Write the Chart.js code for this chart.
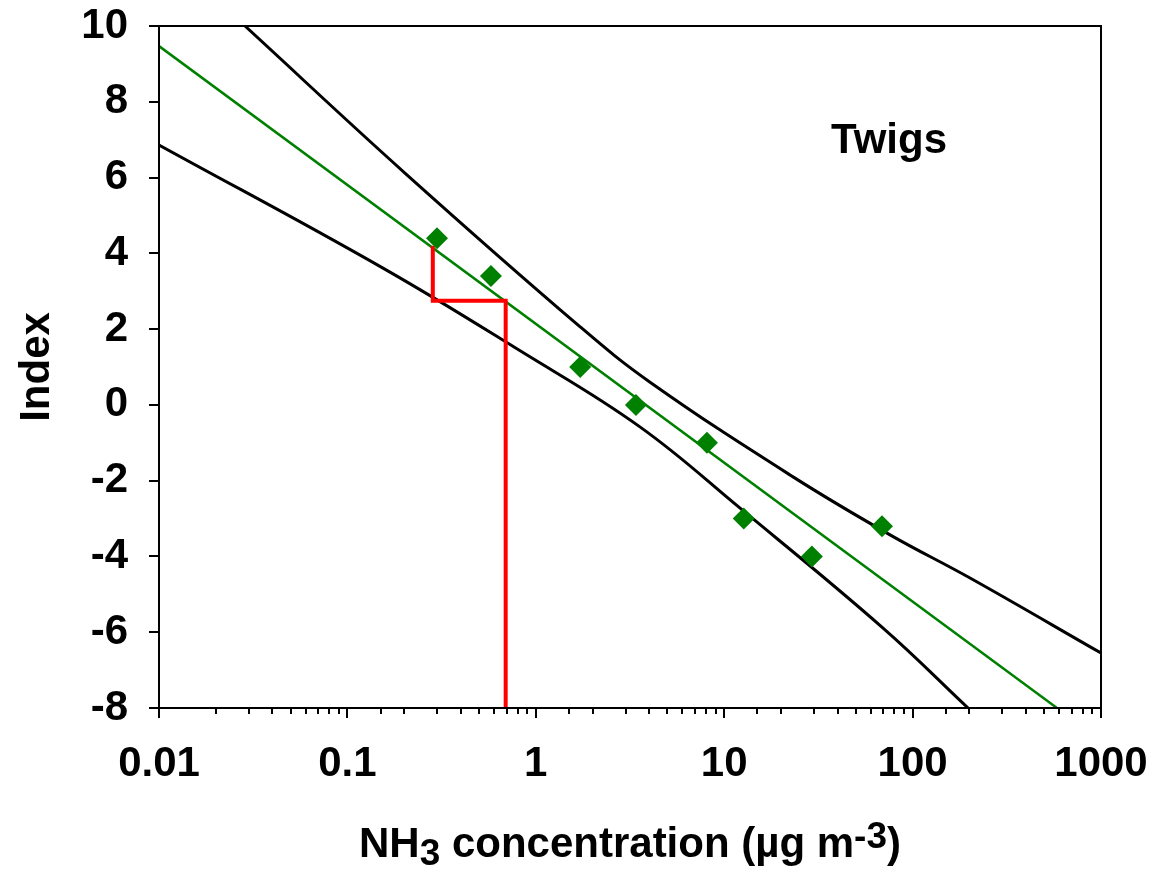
<!DOCTYPE html>
<html>
<head>
<meta charset="utf-8">
<script src="https://cdn.jsdelivr.net/npm/chart.js@4.4.0/dist/chart.umd.min.js"></script>
<style>
html,body{margin:0;padding:0;background:#fff;}
canvas{display:block;}
</style>
</head>
<body>
<canvas id="c" width="1153" height="884"></canvas>
<script>
// ---- data ----
const pointsX = [0.299, 0.578, 1.72, 3.40, 8.1, 12.7, 29.2, 68.8];
const pointsY = [4.4, 3.4, 1.0, 0.0, -1.0, -3.0, -4.0, -3.2];

const fitX = [0.01, 584];
const fitY = [9.47, -8];

const upperX = [0.0286, 0.202, 1.72, 4.04, 23.2, 75.9, 201.8, 1000];
const upperY = [10, 6.12, 2.06, 0.60, -1.90, -3.43, -4.57, -6.55];

const lowerX = [0.01, 0.1545, 0.83, 3.57, 12.1, 69.7, 197];
const lowerY = [6.86, 3.61, 1.42, -0.58, -2.72, -5.89, -8];

const redX = [0.284, 0.284, 0.692, 0.692];
const redY = [4.2, 2.75, 2.75, -8];

const xTickValues = [0.01, 0.1, 1, 10, 100, 1000];
const xTickLabels = ['0.01', '0.1', '1', '10', '100', '1000'];
const yMin = -8, yMax = 10, yStep = 2;

const annotationText = 'Twigs';
const annotationX = 75;
const annotationY = 6.65;

const xTitleParts = [
  {t: 'NH', kind: 'n'},
  {t: '3', kind: 'sub'},
  {t: ' concentration (\u00b5g m', kind: 'n'},
  {t: '-3', kind: 'sup'},
  {t: ')', kind: 'n'}
];
const yTitle = 'Index';

// ---- helpers ----
const FONT = "'Liberation Sans', Arial, Helvetica, sans-serif";
const FS = 42;
const pts = (xs, ys) => xs.map((v, i) => ({x: v, y: ys[i]}));
const isDecade = v => { const l = Math.log10(v); return Math.abs(l - Math.round(l)) < 1e-6; };

const decor = {
  id: 'decor',
  afterDatasetsDraw(chart) {
    const {ctx, chartArea: a, scales: {x, y}} = chart;
    ctx.save();
    ctx.strokeStyle = '#000';
    ctx.lineWidth = 2;
    ctx.strokeRect(a.left, a.top, a.right - a.left, a.bottom - a.top);
    ctx.beginPath();
    x.ticks.forEach(t => {
      const px = Math.round(x.getPixelForValue(t.value));
      const len = isDecade(t.value) ? 10 : 6;
      ctx.moveTo(px, a.bottom);
      ctx.lineTo(px, a.bottom + len);
    });
    y.ticks.forEach(t => {
      const py = Math.round(y.getPixelForValue(t.value));
      ctx.moveTo(a.left - 10, py);
      ctx.lineTo(a.left, py);
    });
    ctx.stroke();

    // annotation
    ctx.fillStyle = '#000';
    ctx.font = `bold ${FS}px ${FONT}`;
    ctx.textAlign = 'center';
    ctx.textBaseline = 'alphabetic';
    ctx.fillText(annotationText, x.getPixelForValue(annotationX), y.getPixelForValue(annotationY));

    // x axis title with sub/superscript
    const fN = `bold ${FS}px ${FONT}`;
    const fS = `bold ${FS - 5}px ${FONT}`;
    let total = 0;
    xTitleParts.forEach(p => {
      ctx.font = p.kind === 'n' ? fN : fS;
      p.w = ctx.measureText(p.t).width;
      total += p.w;
    });
    const base = chart.height - 27;
    let cx = (a.left + a.right) / 2 - total / 2;
    ctx.textAlign = 'left';
    xTitleParts.forEach(p => {
      ctx.font = p.kind === 'n' ? fN : fS;
      const dy = p.kind === 'sub' ? 8 : (p.kind === 'sup' ? -9 : 0);
      ctx.fillText(p.t, cx, base + dy);
      cx += p.w;
    });
    ctx.restore();
  }
};

new Chart(document.getElementById('c'), {
  type: 'scatter',
  data: {
    datasets: [
      {label: 'measured', data: pts(pointsX, pointsY), showLine: false,
       pointStyle: 'rectRot', pointRadius: 11, pointBackgroundColor: '#008000',
       pointBorderWidth: 0, backgroundColor: '#008000', borderColor: '#008000'},
      {label: 'critical', data: pts(redX, redY), showLine: true, borderColor: '#ff0000',
       borderWidth: 4, pointRadius: 0, fill: false, tension: 0},
      {label: 'fit', data: pts(fitX, fitY), showLine: true, borderColor: '#008000',
       borderWidth: 2.5, pointRadius: 0, fill: false},
      {label: 'upper', data: pts(upperX, upperY), showLine: true, borderColor: '#000000',
       borderWidth: 3, pointRadius: 0, fill: false, tension: 0.4},
      {label: 'lower', data: pts(lowerX, lowerY), showLine: true, borderColor: '#000000',
       borderWidth: 3, pointRadius: 0, fill: false, tension: 0.4}
    ]
  },
  options: {
    responsive: false,
    animation: false,
    events: [],
    layout: {padding: {left: 0, right: 52, top: 26, bottom: 0}},
    plugins: {legend: {display: false}, tooltip: {enabled: false}},
    scales: {
      x: {
        type: 'logarithmic', min: xTickValues[0], max: xTickValues[xTickValues.length - 1],
        grid: {display: false, drawTicks: false}, border: {display: false},
        ticks: {
          autoSkip: false, maxRotation: 0, padding: 31, color: '#000',
          font: {family: FONT, size: FS, weight: 'bold'},
          callback: v => {
            const i = xTickValues.findIndex(t => Math.abs(Math.log10(t) - Math.log10(v)) < 1e-6);
            return i >= 0 ? xTickLabels[i] : '';
          }
        },
        afterFit: s => { s.height = 176; s.paddingLeft = 0; s.paddingRight = 0; }
      },
      y: {
        type: 'linear', min: yMin, max: yMax,
        grid: {display: false, drawTicks: false}, border: {display: false},
        ticks: {stepSize: yStep, padding: 31, color: '#000',
          font: {family: FONT, size: FS, weight: 'bold'}},
        title: {display: true, text: yTitle, color: '#000', padding: {top: 12, bottom: 0},
          font: {family: FONT, size: FS, weight: 'bold'}},
        afterFit: s => { s.width = 159; s.paddingTop = 0; s.paddingBottom = 0; }
      }
    }
  },
  plugins: [decor]
});
</script>
</body>
</html>
